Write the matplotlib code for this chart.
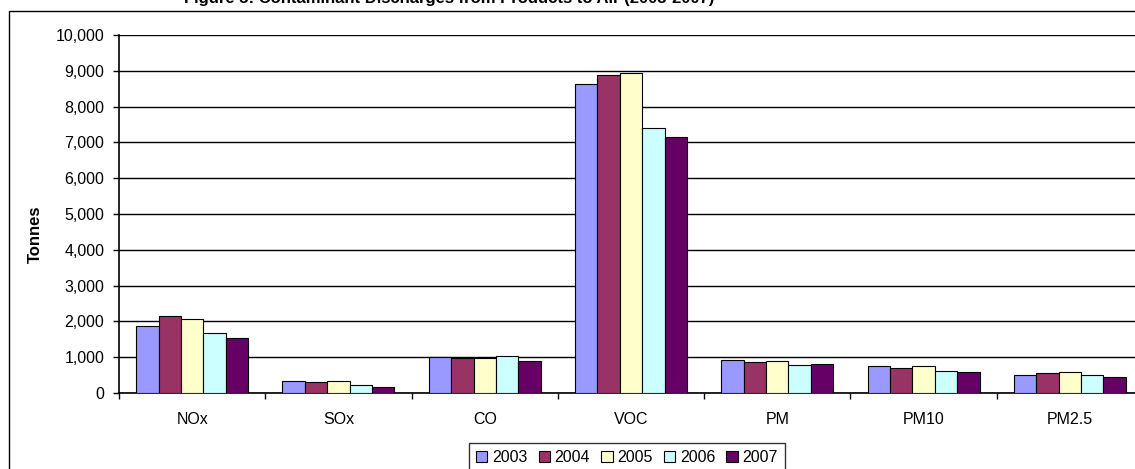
import matplotlib
matplotlib.use("Agg")
import matplotlib.pyplot as plt
import matplotlib.patches as mpatches
import numpy as np

plt.rcParams['font.family'] = ['Liberation Sans', 'DejaVu Sans']

categories = ["NOx", "SOx", "CO", "VOC", "PM", "PM10", "PM2.5"]
years = ["2003", "2004", "2005", "2006", "2007"]
v2003 = [1870, 345, 1000, 8620, 920, 745, 510]
v2004 = [2150, 300, 970, 8890, 855, 707, 560]
v2005 = [2075, 345, 985, 8945, 895, 745, 588]
v2006 = [1668, 215, 1025, 7410, 772, 615, 512]
v2007 = [1536, 176, 880, 7155, 800, 588, 436]
series = [v2003, v2004, v2005, v2006, v2007]
colors = ["#9999FF", "#993366", "#FFFFCC", "#CCFFFF", "#660066"]
yticks = list(range(0, 10001, 1000))

W, H = 1135, 469
fig = plt.figure(figsize=(W / 100, H / 100), dpi=100)

# outer chart-area border (runs off right and bottom)
fig.patches.append(mpatches.Rectangle((9 / W, -0.2), 1.2, (H - 11) / H + 0.2,
                                      transform=fig.transFigure, fill=False,
                                      edgecolor="black", linewidth=1.0))

# title, clipped at the top edge as in the reference
fig.text(184 / W, 1 - 2.5 / H,
         "Figure 5: Contaminant Discharges from Products to Air (2003-2007)",
         fontsize=12, fontweight="bold", ha="left", va="baseline")

ax = fig.add_axes([119 / W, (H - 393) / H, 1024 / W, 358 / H])
x = np.arange(len(categories))
n = len(series)
bw = 0.153
for i, (vals, c, yr) in enumerate(zip(series, colors, years)):
    ax.bar(x + (i - (n - 1) / 2) * bw, vals, width=bw, color=c,
           edgecolor="black", linewidth=0.8, label=yr, zorder=3)

ax.set_xlim(-0.5, len(categories) - 0.5)
ax.set_ylim(0, 10000)
ax.set_yticks(yticks)
ax.set_yticklabels([f"{t:,}" for t in yticks], fontsize=11.5)
ax.yaxis.grid(True, color="black", linewidth=1.0, zorder=0)
ax.set_axisbelow(True)

ax.set_xticks(np.arange(-0.5, len(categories), 1.0))
ax.set_xticklabels([])
ax.set_xticks(x, minor=True)
ax.set_xticklabels(categories, minor=True, fontsize=11.5)
ax.tick_params(axis="x", which="major", direction="out", length=4.5, width=1)
ax.tick_params(axis="x", which="minor", length=0, pad=14)
ax.tick_params(axis="y", direction="out", length=4, width=1, pad=6.5)

for s in ["top", "right"]:
    ax.spines[s].set_visible(False)
ax.spines["left"].set_linewidth(1.2)
ax.spines["bottom"].set_linewidth(1.2)

ax.set_ylabel("Tonnes", fontsize=12, fontweight="bold")
ax.yaxis.set_label_coords(35 / W, 0.5, transform=fig.transFigure)
ax.yaxis.label.set_verticalalignment("center")

leg = fig.legend(loc="upper center", bbox_to_anchor=(627 / W, 1 - 443 / H),
                 ncol=5, fontsize=11.5, frameon=True, fancybox=False,
                 handlelength=0.7, handleheight=0.7, handletextpad=0.3,
                 columnspacing=0.7, borderpad=0.45, borderaxespad=0)
leg.get_frame().set_edgecolor("black")
leg.get_frame().set_linewidth(1.0)

fig.savefig("out.png", dpi=100)
